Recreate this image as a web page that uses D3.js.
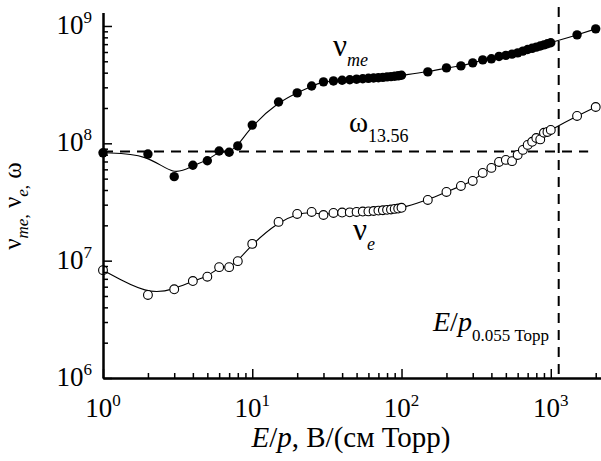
<!DOCTYPE html>
<html lang="ru">
<head>
<meta charset="UTF-8">
<title>nu_me, nu_e vs E/p</title>
<script src="https://d3js.org/d3.v7.min.js"></script>
<style>
    body { margin: 0; background: #fff; }
    .it { font-style: italic; }
</style>
</head>
<body>
<svg id="chart" width="601" height="461" font-family="Liberation Serif, Times New Roman, DejaVu Serif, serif"></svg>
<script>
// E/p, V/(cm Torr)
var epValues = [1, 2, 3, 4, 5, 6, 7, 8, 10, 15, 20, 25, 30, 35, 40, 45, 50, 55, 60, 65, 70, 75, 80, 85, 90, 95, 100,
    150, 200, 250, 300, 350, 400, 450, 500, 550, 600, 650, 700, 750, 800, 850, 900, 950, 1000, 1500, 2000];

// nu_me (filled circles)
var numeValues = [8.3e7, 8.1e7, 5.2e7, 6.5e7, 7.1e7, 8.6e7, 8.4e7, 9.5e7, 1.43e8, 2.25e8, 2.69e8, 3.08e8, 3.34e8,
    3.40e8, 3.45e8, 3.48e8, 3.52e8, 3.55e8, 3.58e8, 3.60e8, 3.62e8, 3.65e8, 3.68e8, 3.70e8, 3.73e8, 3.76e8, 3.80e8,
    4.06e8, 4.39e8, 4.57e8, 4.85e8, 5.14e8, 5.25e8, 5.50e8, 5.62e8, 5.75e8, 5.90e8, 6.10e8, 6.30e8, 6.45e8, 6.60e8,
    6.75e8, 6.90e8, 7.05e8, 7.20e8, 8.40e8, 9.45e8];

// nu_e (open circles)
var nueValues = [8.3e6, 5.1e6, 5.7e6, 6.7e6, 7.3e6, 8.8e6, 8.8e6, 9.9e6, 1.39e7, 2.14e7, 2.50e7, 2.60e7, 2.45e7,
    2.55e7, 2.57e7, 2.58e7, 2.60e7, 2.62e7, 2.63e7, 2.65e7, 2.67e7, 2.69e7, 2.71e7, 2.73e7, 2.76e7, 2.78e7, 2.82e7,
    3.29e7, 3.85e7, 4.33e7, 4.78e7, 5.59e7, 6.17e7, 6.94e7, 7.22e7, 7.05e7, 7.96e7, 8.79e7, 9.69e7, 1.03e8, 1.11e8,
    1.08e8, 1.23e8, 1.25e8, 1.30e8, 1.71e8, 2.04e8];

// reference lines
var omegaLine = [[1, 8.52e7], [1780, 8.52e7]];     // omega for 13.56 MHz
var epLine = [[1130, 1.45e9], [1130, 1e6]];        // E/p at 0.055 Torr

var xMajor = [1, 10, 100, 1000];
var xExp = ["0", "1", "2", "3"];
var yMajor = [1e6, 1e7, 1e8, 1e9];
var yExp = ["6", "7", "8", "9"];

var svg = d3.select("#chart");

var x = d3.scaleLog().domain([1, 2170]).range([103, 601]);
var y = d3.scaleLog().domain([1e6, 1.3e9]).range([378, 12.6]);

function minors(major, lo, hi) {
    var out = [];
    major.forEach(function (m) {
        for (var k = 2; k <= 9; k++) {
            var v = m * k;
            if (v > lo && v < hi) out.push(v);
        }
    });
    return out;
}
var xMinor = minors(xMajor, 1, 2170);
var yMinor = minors(yMajor, 1e6, 1.3e9);

// dashed reference lines
var refLine = d3.line().x(function (d) { return x(d[0]); }).y(function (d) { return y(d[1]); });
[omegaLine, epLine].forEach(function (l) {
    svg.append("path")
        .attr("d", refLine(l))
        .attr("fill", "none")
        .attr("stroke", "#000")
        .attr("stroke-width", 2)
        .attr("stroke-dasharray", "10,7");
});

// fitted curves
var curve = d3.line()
    .x(function (d, i) { return x(epValues[i]); })
    .y(function (d) { return y(d); })
    .curve(d3.curveBasis);

svg.append("path").attr("d", curve(numeValues))
    .attr("fill", "none").attr("stroke", "#000").attr("stroke-width", 1.1);
svg.append("path").attr("d", curve(nueValues))
    .attr("fill", "none").attr("stroke", "#000").attr("stroke-width", 1.1);

// markers
svg.append("g").selectAll("circle")
    .data(numeValues)
    .enter().append("circle")
    .attr("cx", function (d, i) { return x(epValues[i]); })
    .attr("cy", function (d) { return y(d); })
    .attr("r", 4.7)
    .attr("fill", "#000");

svg.append("g").selectAll("circle")
    .data(nueValues)
    .enter().append("circle")
    .attr("cx", function (d, i) { return x(epValues[i]); })
    .attr("cy", function (d) { return y(d); })
    .attr("r", 4.4)
    .attr("fill", "#fff")
    .attr("stroke", "#000")
    .attr("stroke-width", 1.1);

// axes, ticks pointing inward
function styleAxis(g) {
    g.select(".domain").attr("stroke-width", 2);
    g.selectAll(".tick line").attr("stroke-width", 1.5);
}
svg.append("g").attr("transform", "translate(0,378)")
    .call(d3.axisTop(x).tickValues(xMinor).tickSize(5).tickSizeOuter(0).tickFormat(""))
    .call(styleAxis);
svg.append("g").attr("transform", "translate(0,378)")
    .call(d3.axisTop(x).tickValues(xMajor).tickSize(9).tickSizeOuter(0).tickFormat(""))
    .call(styleAxis);
svg.append("g").attr("transform", "translate(103,0)")
    .call(d3.axisRight(y).tickValues(yMinor).tickSize(5).tickSizeOuter(0).tickFormat(""))
    .call(styleAxis);
svg.append("g").attr("transform", "translate(103,0)")
    .call(d3.axisRight(y).tickValues(yMajor).tickSize(9).tickSizeOuter(0).tickFormat(""))
    .call(styleAxis);

// everything below is text; d3 axes set their own font-family, so set it here explicitly
var serif = "Liberation Serif, Times New Roman, DejaVu Serif, serif";

// tick labels 10^n
xMajor.forEach(function (v, i) {
    var t = svg.append("text")
        .attr("font-family", serif)
        .attr("x", x(v)).attr("y", 417)
        .attr("text-anchor", "middle")
        .attr("font-size", 27);
    t.append("tspan").text("10");
    t.append("tspan").attr("font-size", 17).attr("dy", -11).text(xExp[i]);
});
yMajor.forEach(function (v, i) {
    var t = svg.append("text")
        .attr("font-family", serif)
        .attr("x", 92).attr("y", y(v) + 8)
        .attr("text-anchor", "end")
        .attr("font-size", 27);
    t.append("tspan").text("10");
    t.append("tspan").attr("font-size", 17).attr("dy", -11).text(yExp[i]);
});

// axis titles
var xt = svg.append("text")
    .attr("font-family", serif)
    .attr("x", 351).attr("y", 447)
    .attr("text-anchor", "middle")
    .attr("font-size", 29);
xt.append("tspan").attr("class", "it").text("E");
xt.append("tspan").text("/");
xt.append("tspan").attr("class", "it").text("p");
xt.append("tspan").text(", В/(см Торр)");

var yt = svg.append("text")
    .attr("font-family", serif)
    .attr("transform", "translate(21,206) rotate(-90)")
    .attr("text-anchor", "middle")
    .attr("font-size", 25);
yt.append("tspan").text("ν");
yt.append("tspan").attr("class", "it").attr("font-size", 17).attr("dy", 7).text("me");
yt.append("tspan").attr("font-size", 17).text(",");
yt.append("tspan").attr("dy", -7).text(" ν");
yt.append("tspan").attr("class", "it").attr("font-size", 17).attr("dy", 7).text("e");
yt.append("tspan").attr("font-size", 17).text(",");
yt.append("tspan").attr("dy", -7).text(" ω");

// in-plot labels
function subLabel(px, py, main, sub, subItalic, mainSize) {
    var t = svg.append("text").attr("font-family", serif)
        .attr("x", px).attr("y", py).attr("font-size", mainSize);
    t.append("tspan").text(main);
    var s = t.append("tspan").attr("font-size", 18).attr("dy", 10).text(sub);
    if (subItalic) s.attr("class", "it");
    return t;
}
subLabel(333, 56, "ν", "me", true, 31);
subLabel(349, 132, "ω", "13.56", false, 29);
subLabel(353, 240, "ν", "e", true, 31);

var ep = svg.append("text").attr("font-family", serif)
    .attr("x", 433).attr("y", 331).attr("font-size", 28);
ep.append("tspan").attr("class", "it").text("E");
ep.append("tspan").text("/");
ep.append("tspan").attr("class", "it").text("p");
ep.append("tspan").attr("font-size", 17).attr("dy", 10).text("0.055 Торр");
</script>
</body>
</html>
